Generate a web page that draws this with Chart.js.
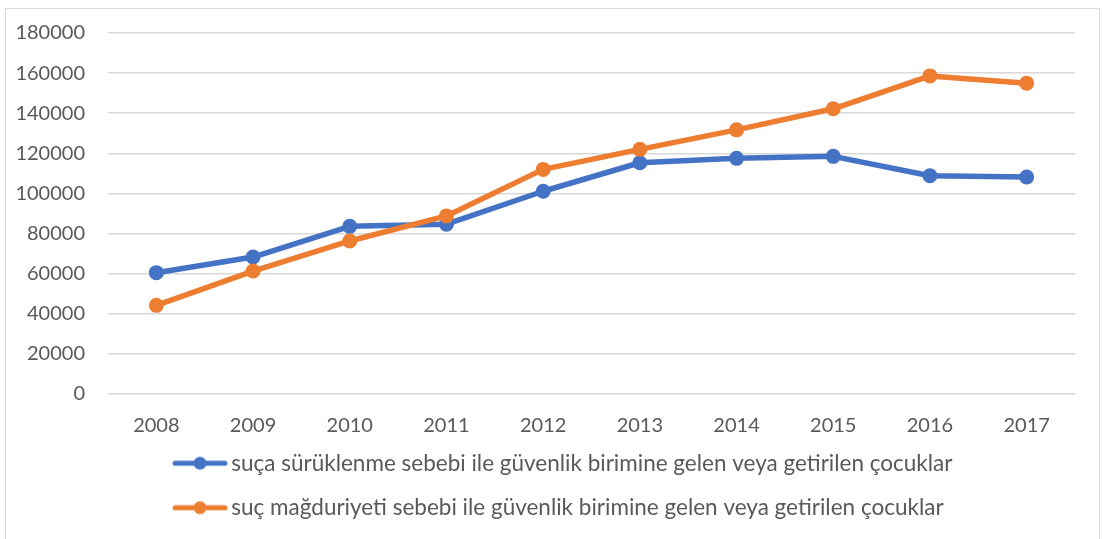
<!DOCTYPE html>
<html>
<head>
<meta charset="utf-8">
<script src="https://cdn.jsdelivr.net/npm/chart.js@4"></script>
<style>
  body { margin: 0; background: #fff; }
  #box {
    position: absolute; left: 5px; top: 8px;
    width: 1093px; height: 540px;
    border: 1px solid #d9d9d9;
  }
</style>
</head>
<body>
<div id="box"><canvas id="chart"></canvas></div>
<script>
var years = ["2008", "2009", "2010", "2011", "2012", "2013", "2014", "2015", "2016", "2017"];
var suca_suruklenme = [60500, 68300, 83600, 84700, 101100, 115300, 117500, 118500, 108800, 108200];
var suc_magduriyeti = [44200, 61300, 76300, 88800, 112000, 122000, 131700, 142200, 158600, 155000];
var series_names = [
  "suça sürüklenme sebebi ile güvenlik birimine gelen veya getirilen çocuklar",
  "suç mağduriyeti sebebi ile güvenlik birimine gelen veya getirilen çocuklar"
];
var colors = ["#4472C4", "#ED7D31"];

// line + dot marker for the legend, like the spreadsheet one
function legend_marker(color) {
  var c = document.createElement("canvas");
  c.width = 56;
  c.height = 16;
  var g = c.getContext("2d");
  g.strokeStyle = color;
  g.lineWidth = 5;
  g.lineCap = "round";
  g.beginPath();
  g.moveTo(3, 8);
  g.lineTo(53, 8);
  g.stroke();
  g.fillStyle = color;
  g.beginPath();
  g.arc(28, 8, 6.5, 0, Math.PI * 2);
  g.fill();
  return c;
}

// nudge the legend block so it sits like the original
var legend_nudge = {
  id: "legend_nudge",
  afterLayout: function (chart) {
    var lg = chart.legend;
    lg.top -= 8;
    lg.bottom -= 8;
    lg.left += 152;
    lg.right += 152;
  }
};

Chart.defaults.font.family = "Lato";
Chart.defaults.font.size = 20;
Chart.defaults.color = "#595959";

var config = {
  type: "line",
  data: {
    labels: years,
    datasets: [
      {
        label: series_names[0],
        data: suca_suruklenme,
        borderColor: colors[0],
        backgroundColor: colors[0],
        order: 2
      },
      {
        label: series_names[1],
        data: suc_magduriyeti,
        borderColor: colors[1],
        backgroundColor: colors[1],
        order: 1
      }
    ]
  },
  plugins: [legend_nudge],
  options: {
    responsive: true,
    maintainAspectRatio: false,
    animation: false,
    elements: {
      line: { borderWidth: 5.5, tension: 0, borderCapStyle: "round", borderJoinStyle: "round" },
      point: { radius: 7.5, hoverRadius: 7.5, borderWidth: 0 }
    },
    layout: { padding: { top: 24, right: 24, left: 0, bottom: 12 } },
    scales: {
      x: {
        offset: true,
        grid: { display: false, drawTicks: false },
        border: { display: false },
        ticks: { padding: 20 },
        afterFit: function (scale) { scale.height = 44; }
      },
      y: {
        min: 0,
        max: 180000,
        grid: { color: "#d9d9d9", lineWidth: 1.5, drawTicks: false },
        border: { display: false },
        ticks: {
          stepSize: 20000,
          padding: 23,
          callback: function (value) { return String(value); }
        },
        afterFit: function (scale) {
          scale.width = 102;
          scale.paddingTop = 0;
          scale.paddingBottom = 0;
        }
      }
    },
    plugins: {
      tooltip: { enabled: false },
      legend: {
        position: "bottom",
        align: "start",
        labels: {
          usePointStyle: true,
          pointStyleWidth: 40,
          padding: 22,
          font: { size: 22.5 },
          generateLabels: function (chart) {
            return chart.data.datasets.map(function (ds, i) {
              return {
                text: ds.label,
                pointStyle: legend_marker(colors[i]),
                fontColor: "#595959",
                lineWidth: 0,
                datasetIndex: i
              };
            });
          }
        }
      }
    }
  }
};

var ctx = document.getElementById("chart").getContext("2d");
new Chart(ctx, config);
</script>
</body>
</html>
